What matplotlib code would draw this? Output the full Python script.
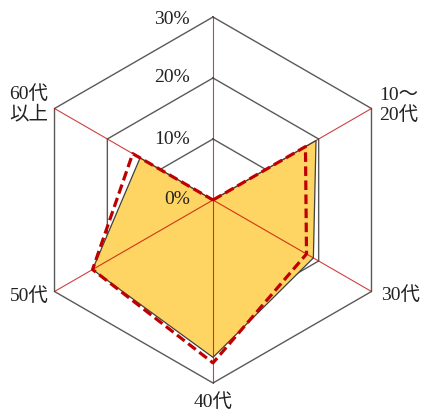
import numpy as np
import matplotlib
matplotlib.use("Agg")
import matplotlib.pyplot as plt

# Age groups, clockwise from the top axis
categories = ["", "10〜\n20代", "30代", "40代", "50代", "60代\n以上"]
series_fill = [0, 19.5, 19.0, 25.8, 22.8, 13.8]    # shaded area (%)
series_dash = [0, 17.5, 17.7, 26.7, 22.8, 15.2]    # dashed outline (%)
ring_values = [10, 20, 30]
tick_labels = ["0%", "10%", "20%", "30%"]

FONT = ["Liberation Serif", "Noto Sans CJK JP"]

n = len(categories)
angles = np.arange(n) * 2 * np.pi / n
angles_closed = np.append(angles, angles[0])

def closed(vals):
    return np.append(vals, vals[0])

fig = plt.figure(figsize=(4.24, 4.13), dpi=100)
ax = fig.add_axes([30 / 424, 30 / 413, 366 / 424, 366 / 413], projection="polar")
ax.set_theta_offset(np.pi / 2)
ax.set_theta_direction(-1)
ax.set_ylim(0, 30)
ax.axis("off")

# hexagonal rings
for r in ring_values:
    ax.plot(angles_closed, [r] * (n + 1), color="#595959", lw=1.0,
            clip_on=False, zorder=1)

# shaded series
ax.fill(angles_closed, closed(series_fill), color="#FED463", lw=0, zorder=2)

# spokes
for a in angles:
    ax.plot([a, a], [0, 30], color="#C00000", lw=0.8, alpha=0.75,
            clip_on=False, zorder=3)

# outline of the shaded series
ax.plot(angles_closed, closed(series_fill), color="#404040", lw=0.9,
        clip_on=False, zorder=4)

# dashed series
ax.plot(angles_closed, closed(series_dash), color="#C00000", lw=2.3,
        ls=(0, (3, 1.4)), clip_on=False, zorder=5)

# radial tick labels along the top axis
for i, lab in enumerate(tick_labels):
    r = i * 10
    ax.annotate(lab, xy=(0, r), xytext=(-23, -2 if r == 30 else 0),
                textcoords="offset pixels", ha="right", va="center",
                fontsize=14, family=FONT, color="#222222", zorder=6)

# category labels
offsets = {
    1: ((8, 3), "left", "center"),
    2: ((10, -4), "left", "center"),
    3: ((0, -19), "center", "center"),
    4: ((-6, -5), "right", "center"),
    5: ((-6, 4), "right", "center"),
}
for i, lab in enumerate(categories):
    if not lab:
        continue
    (dx, dy), ha, va = offsets[i]
    ax.annotate(lab, xy=(angles[i], 30), xytext=(dx, dy),
                textcoords="offset pixels", ha=ha, va=va, fontsize=14,
                family=FONT, color="#222222", linespacing=1.2,
                annotation_clip=False)

fig.savefig("out.png", dpi=100)
